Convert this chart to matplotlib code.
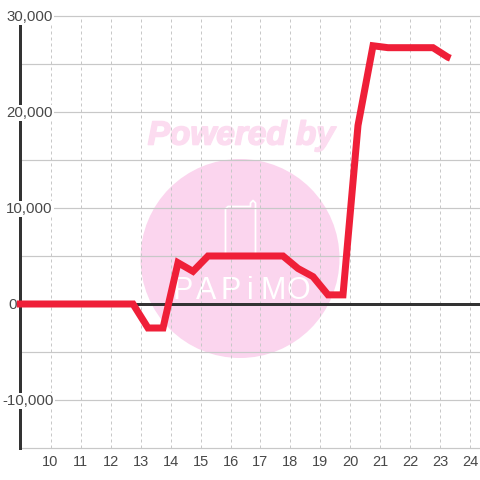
import matplotlib

matplotlib.use("Agg")
import matplotlib.patheffects as pe
import matplotlib.pyplot as plt
from matplotlib.patches import Circle
from matplotlib.transforms import ScaledTranslation

hours = [8.88, 9.25, 9.75, 10.25, 10.75, 11.25, 11.75, 12.25, 12.75, 13.25, 13.75,
         14.25, 14.75, 15.25, 15.75, 16.25, 16.75, 17.25, 17.75, 18.25, 18.75,
         19.25, 19.75, 20.25, 20.75, 21.25, 21.75, 22.25, 22.75, 23.25, 23.33]
values = [0, 0, 0, 0, 0, 0, 0, 0, 0, -2500, -2500,
          4300, 3400, 5000, 5000, 5000, 5000, 5000, 5000, 3700, 2850,
          950, 950, 18600, 26900, 26700, 26700, 26700, 26700, 25700, 25600]

x_ticks = list(range(10, 25))
y_grid = list(range(-15000, 30001, 5000))
y_labels = {30000: "30,000", 20000: "20,000", 10000: "10,000", 0: "0", -10000: "-10,000"}
label_left = {30000: 6, 20000: 6, 10000: 6, 0: 8, -10000: 2}

RED = "#ef1f38"
DARK = "#333333"
GRID = "#c8c8c8"
TEXT = "#484848"
PINK = "#fbd5ee"
FONT = "Liberation Sans"
PX = 72 / 100


def main():
    plt.rcParams["font.family"] = [FONT, "DejaVu Sans"]
    fig = plt.figure(figsize=(4.8, 4.8), dpi=100)

    # watermark sits behind the chart, in pixel coordinates
    bg = fig.add_axes([0, 0, 1, 1], zorder=0)
    bg.set_xlim(0, 480)
    bg.set_ylim(480, 0)
    bg.axis("off")
    bg.add_patch(Circle((240, 258.5), 99.5, color=PINK, lw=0))
    bg.text(241.5, 136, "Powered by", color="#fcdcf0", fontsize=24, fontweight="bold",
            fontstyle="italic", ha="center", va="center",
            path_effects=[pe.withStroke(linewidth=1.2, foreground="#fcdcf0")])
    bg.plot([225.5, 225.5, 228, 250.5, 250.5, 253, 255.5, 255.5],
            [252, 209, 206.5, 206.5, 203, 200.5, 203, 252],
            color="white", lw=1.8 * PX)
    for x, letter in zip([183, 206, 231, 250, 273, 298], "PAPiMO"):
        bg.text(x, 291, letter, color="white", fontsize=22, ha="center", va="center")

    ax = fig.add_axes([20 / 480, 32 / 480, 460 / 480, 432 / 480], zorder=1)
    ax.patch.set_visible(False)
    ax.set_xlim(8.9833, 24.3167)
    ax.set_ylim(-15000, 30000)

    for spine in ["top", "right", "bottom"]:
        ax.spines[spine].set_visible(False)
    ax.spines["left"].set_color(DARK)
    ax.spines["left"].set_linewidth(3 * PX)

    ax.set_yticks(y_grid)
    ax.set_yticklabels([])
    ax.set_xticks(x_ticks)
    ax.tick_params(axis="both", length=0, pad=5, labelsize=10.5, labelcolor=TEXT)
    ax.grid(True, axis="y", color=GRID, lw=1.2 * PX, clip_on=False)
    ax.grid(True, axis="x", color=GRID, lw=1 * PX, linestyle=(0, (3, 3)))
    ax.set_axisbelow(True)

    ax.axhline(0, color=DARK, lw=3 * PX, zorder=3)

    trans = ax.get_yaxis_transform() + ScaledTranslation(0, -1 / 100, fig.dpi_scale_trans)
    for value, label in y_labels.items():
        ax.text((label_left[value] - 20) / 460, value, label, transform=trans,
                color=TEXT, fontsize=10.8, ha="left", va="center", zorder=4, clip_on=False,
                bbox=dict(facecolor="white", edgecolor="none", pad=1))

    ax.plot(hours, values, color=RED, lw=7 * PX, solid_joinstyle="miter",
            solid_capstyle="butt", zorder=5, clip_on=False)

    fig.savefig("out.png", dpi=100)


if __name__ == "__main__":
    main()
